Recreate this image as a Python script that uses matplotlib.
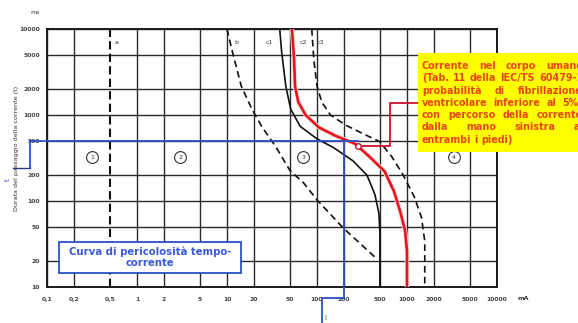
import matplotlib
matplotlib.use("Agg")
import matplotlib.pyplot as plt
from matplotlib.patches import Rectangle

# ---------------- data ----------------
x_ticks = [0.1, 0.2, 0.5, 1, 2, 5, 10, 20, 50, 100, 200, 500, 1000, 2000, 5000, 10000]
x_tick_labels = ['0,1', '0,2', '0,5', '1', '2', '5', '10', '20', '50', '100', '200',
                 '500', '1000', '2000', '5000', '10000']
y_ticks = [10, 20, 50, 100, 200, 500, 1000, 2000, 5000, 10000]
y_tick_labels = ['10', '20', '50', '100', '200', '500', '1000', '2000', '5000', '10000']

a_I = [0.5, 0.5]
a_t = [10, 10000]

b_I = [10, 11.5, 14.4, 18.9, 24.7, 34.7, 50, 70.7, 100, 195, 452]
b_t = [10000, 5400, 2170, 1170, 717, 430, 227, 163, 103, 48.7, 21.7]

c1_I = [38.5, 40.5, 45, 51, 65, 100, 152, 251, 359, 440, 487, 500, 500]
c1_t = [10000, 5400, 2170, 1170, 738, 528, 419, 293, 200, 119, 72, 42.6, 10]

c2_I = [52.7, 55.6, 57, 62, 74.7, 105, 160, 265, 387, 564, 716, 845, 953, 1000, 1000]
c2_t = [10000, 4490, 2170, 1413, 1000, 717, 574, 463, 324, 221, 130, 74, 45, 26, 10]

c3_I = [87.5, 92, 100, 113, 141, 210, 324, 500, 682, 908, 1205, 1450, 1575, 1575]
c3_t = [10000, 4490, 2170, 1413, 1000, 759, 607, 488, 324, 200, 112, 64, 34, 10]

zone_I = [0.32, 3.04, 70.7, 3330]
zone_t = [324, 324, 324, 324]
zone_labels = ['1', '2', '3', '4']

curve_label_I = [0.60, 12.8, 29.7, 70.7, 108]
curve_label_t = [6980, 6980, 6980, 6900, 6900]
curve_labels = ['a', 'b', 'c1', 'c2', 'c3']

# point of interest (200 mA, 500 ms) and marked point on c2
poi_I = 200
poi_t = 500
mark_I = 286
mark_t = 441

box_lines = ["Corrente nel corpo umano",
             "(Tab. 11 della IEC/TS 60479-1",
             "probabilità di fibrillazione",
             "ventricolare inferiore al 5%)",
             "con percorso della corrente",
             "dalla mano sinistra ai",
             "entrambi i piedi)"]

# ---------------- figure ----------------
W, H = 578, 323
fig = plt.figure(figsize=(W / 100, H / 100), dpi=100)
fig.patch.set_facecolor('white')
ax = fig.add_axes([47 / W, 1 - 287 / H, 450 / W, 258 / H])
ax.set_xscale('log')
ax.set_yscale('log')
ax.set_xlim(0.1, 10000)
ax.set_ylim(10, 10000)
ax.minorticks_off()

ax.set_xticks(x_ticks)
ax.set_xticklabels(x_tick_labels, fontsize=4.4, fontweight='bold', color='#444')
ax.set_yticks(y_ticks)
ax.set_yticklabels(y_tick_labels, fontsize=4.4, fontweight='bold', color='#444')
ax.tick_params(axis='both', length=0)
ax.tick_params(axis='x', pad=7)
ax.tick_params(axis='y', pad=5)

for xv in x_ticks:
    if xv == 0.5:
        continue
    ax.axvline(xv, color='#2a2a2a', lw=1.0, zorder=1)
for yv in y_ticks:
    ax.axhline(yv, color='#2a2a2a', lw=1.0, zorder=1)
for s in ax.spines.values():
    s.set_linewidth(1.4)
    s.set_color('#1a1a1a')

# curves
ax.plot(a_I, a_t, color='#111', lw=1.5, ls=(0, (4, 2)), zorder=3)
ax.plot(b_I, b_t, color='#111', lw=1.2, ls=(0, (4, 2.5)), zorder=3)
ax.plot(c1_I, c1_t, color='#111', lw=1.2, zorder=3)
ax.plot(c2_I, c2_t, color='#fbdcdc', lw=3.2, zorder=3, solid_capstyle='butt')
ax.plot(c2_I, c2_t, color='#e8141c', lw=1.9, zorder=4, solid_capstyle='butt')
ax.plot(c3_I, c3_t, color='#111', lw=1.2, ls=(0, (4, 2.5)), zorder=3)

# zone markers
for zi, zt, zl in zip(zone_I, zone_t, zone_labels):
    ax.plot([zi], [zt], marker='o', ms=8.5, mfc='white', mec='#333', mew=0.8, zorder=5)
    ax.text(zi, zt, zl, fontsize=4.5, ha='center', va='center', color='#333', zorder=6)

for li, lt, ll in zip(curve_label_I, curve_label_t, curve_labels):
    ax.text(li, lt, ll, fontsize=4.5, ha='center', va='center', color='#333', zorder=6)

# blue reference lines (500 ms / 200 mA)
blue = '#2a50c8'
ax.plot([0.0647, mark_I], [poi_t, poi_t], color=blue, lw=1.3, zorder=4, clip_on=False)
ax.plot([poi_I, poi_I], [poi_t, 7.45], color=blue, lw=1.3, zorder=4, clip_on=False)
ax.plot([0.0647, 0.0647], [poi_t, 239], color=blue, lw=1.3, zorder=4, clip_on=False)
ax.plot([0.042, 0.0647], [239, 239], color='#24407a', lw=1.0, zorder=4, clip_on=False)
ax.plot([poi_I, 113], [7.45, 7.45], color=blue, lw=1.3, zorder=4, clip_on=False)
ax.plot([113, 113], [7.45, 3.8], color=blue, lw=1.3, zorder=4, clip_on=False)
fig.text(8 / W, 1 - 180 / H, 't', fontsize=5, color=blue, rotation=90, ha='center', va='center')
fig.text(325 / W, 1 - 318 / H, 'I', fontsize=5, color=blue, ha='center', va='center')

# red bracket to the text box
red = '#c8102e'
ax.plot([mark_I, 650, 650, 1377], [mark_t, mark_t, 1377, 1377], color=red, lw=1.3, zorder=5)
ax.plot([mark_I], [mark_t], marker='o', ms=4, mfc='white', mec=red, mew=1.0, zorder=7)

# axis texts
fig.text(17 / W, 1 - 148 / H, 'Durata del passaggio della corrente (t)', rotation=90,
         fontsize=4.6, color='#333', ha='center', va='center')
fig.text(35 / W, 1 - 12 / H, 'ms', fontsize=4.5, color='#333', ha='center', va='center')
fig.text(523 / W, 1 - 298 / H, 'mA', fontsize=4.5, color='#333', ha='center', va='center',
         fontweight='bold')

# blue caption box
fig.patches.append(Rectangle((59 / W, 1 - 273 / H), 182 / W, 31 / H, transform=fig.transFigure,
                             facecolor='white', edgecolor=blue, lw=1.3, zorder=10))
fig.text(150 / W, 1 - 251.5 / H, 'Curva di pericolosità tempo-', fontsize=7.3,
         fontweight='bold', color='#3a5ad8', ha='center', va='center', family='DejaVu Sans',
         zorder=11)
fig.text(150 / W, 1 - 263.5 / H, 'corrente', fontsize=7.3, fontweight='bold', color='#3a5ad8',
         ha='center', va='center', family='DejaVu Sans', zorder=11)

# yellow note box
fig.patches.append(Rectangle((418 / W, 1 - 152 / H), 170 / W, 99 / H, transform=fig.transFigure,
                             facecolor='#ffff00', edgecolor='none', zorder=10))
fig.canvas.draw()
rend = fig.canvas.get_renderer()
x0, x1 = 422.0, 583.0
for i, line in enumerate(box_lines):
    yy = 1 - (66 + i * 12.3) / H
    words = line.split()
    texts = [fig.text(0, yy, w, fontsize=6.9, fontweight='bold', color='#e8461a',
                      family='DejaVu Sans', ha='left', va='center', zorder=11) for w in words]
    widths = [t.get_window_extent(rend).width for t in texts]
    if i == len(box_lines) - 1 or len(words) == 1:
        gap = 3.0
    else:
        gap = max(2.0, (x1 - x0 - sum(widths)) / (len(words) - 1))
    xx = x0
    for t, w in zip(texts, widths):
        t.set_x(xx / W)
        xx += w + gap

fig.savefig('out.png', dpi=100, facecolor='white')
